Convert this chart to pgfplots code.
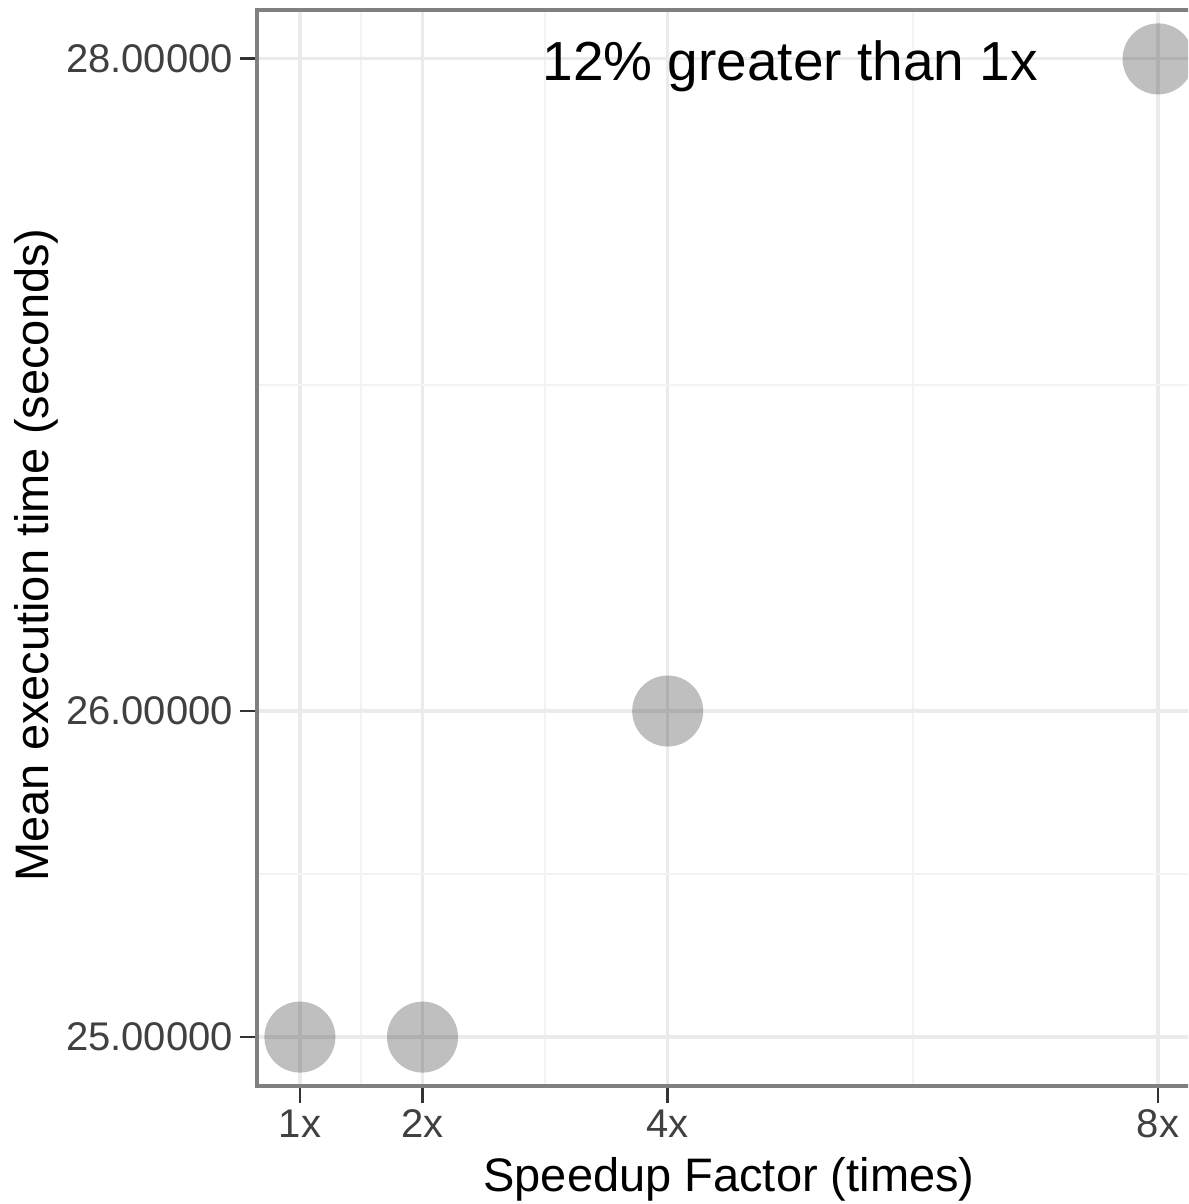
\documentclass[border=0pt]{standalone}
\usepackage{fontspec}
\setmainfont{Liberation Sans}
\usepackage{pgfplots}
\pgfplotsset{compat=1.18}
\definecolor{gridmaj}{HTML}{EBEBEB}
\definecolor{gridmin}{HTML}{F3F3F3}
\begin{document}
\begin{tikzpicture}
\path[use as bounding box] (0,0) rectangle (594pt,602pt);
\clip (0,0) rectangle (594pt,602pt);
\begin{axis}[
  at={(128.5pt,59pt)}, anchor=south west,
  scale only axis, width=472pt, height=538pt,
  xmin=0.65, xmax=8.35, ymin=24.85, ymax=28.15,
  xtick={1,2,4,8}, xticklabels={1x,2x,4x,8x},
  ytick={25,26,28}, yticklabels={25.00000,26.00000,28.00000},
  minor xtick={1.5,3,6}, minor ytick={25.5,27},
  grid=both,
  major grid style={gridmaj, line width=1.6pt},
  minor grid style={gridmin, line width=0.9pt},
  axis line style={black!50, line width=2pt},
  tick align=outside,
  major tick length=8.5pt,
  minor tick length=0pt,
  tick style={black!80, line width=1.4pt},
  xtick pos=bottom, ytick pos=left,
  ticklabel style={font=\fontsize{20}{24}\selectfont, text=black!75},
  clip=false,
]
\addplot[only marks, draw=none, fill=black, fill opacity=0.25, mark=*, mark size=17.75pt, mark options={draw=none, draw opacity=0, fill=black, fill opacity=0.25}] coordinates {(1,25) (2,25) (4,26) (8,28)};
\node[anchor=base, yshift=-11pt, font=\fontsize{27.5}{33}\selectfont] at (axis cs:5,28) {12\% greater than 1x};
\end{axis}
\node[anchor=base, font=\fontsize{23.5}{28}\selectfont] at (364.5pt,6pt) {Speedup Factor (times)};
\node[anchor=base, rotate=90, font=\fontsize{23.5}{28}\selectfont] at (24pt,324.5pt) {Mean execution time (seconds)};
\end{tikzpicture}
\end{document}
